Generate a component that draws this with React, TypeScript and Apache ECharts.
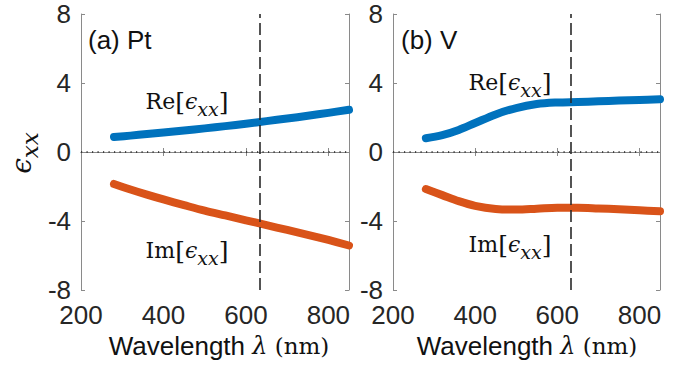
import React, { useEffect, useRef } from "react";
import * as echarts from "echarts";

// Wavelength grid (nm) shared by all curves
const wavelengths = [280, 320, 360, 400, 450, 500, 550, 600, 650, 700, 750, 800, 850];

// Pt permittivity components
const ptRe = [0.87, 0.95, 1.04, 1.13, 1.25, 1.37, 1.5, 1.64, 1.79, 1.94, 2.1, 2.27, 2.45];
const ptIm = [-1.85, -2.17, -2.47, -2.75, -3.08, -3.4, -3.68, -3.96, -4.24, -4.52, -4.8, -5.1, -5.42];

// V permittivity components
const vRe = [0.8, 0.98, 1.28, 1.68, 2.18, 2.55, 2.78, 2.87, 2.9, 2.94, 2.98, 3.02, 3.06];
const vIm = [-2.15, -2.5, -2.85, -3.12, -3.3, -3.34, -3.29, -3.23, -3.23, -3.27, -3.32, -3.38, -3.44];

// Axis settings
const xRange = [200, 850];
const xStep = 200;
const yRange = [-8, 8];
const yStep = 4;
const laserLine = 633;

const BLUE = "#0072BD";
const ORANGE = "#D95319";
const AXIS = "#8a8a8a";
const TEXT = "#262626";
const SANS = "'Liberation Sans', Arial, Helvetica, sans-serif";
const SERIF = "'DejaVu Serif', 'Liberation Serif', serif";
const TICK_FONT = 26;

const pairs = (ys: number[]) => wavelengths.map((w, i) => [w, ys[i]]);

function panelAxes(gridIndex: number) {
  const line = { show: true, lineStyle: { color: AXIS, width: 1 } };
  const tick = { show: true, inside: true, length: 4, lineStyle: { color: AXIS } };
  const xs = [
    {
      type: "value",
      gridIndex,
      position: "bottom",
      min: xRange[0],
      max: xRange[1],
      interval: xStep,
      axisLine: line,
      axisTick: tick,
      axisLabel: {
        show: true,
        showMaxLabel: false,
        margin: 12,
        color: TEXT,
        fontFamily: SANS,
        fontSize: TICK_FONT,
      },
      splitLine: { show: false },
    },
    {
      type: "value",
      gridIndex,
      position: "top",
      min: xRange[0],
      max: xRange[1],
      interval: xStep,
      axisLine: line,
      axisTick: tick,
      axisLabel: { show: false },
      splitLine: { show: false },
    },
  ];
  const ys = [
    {
      type: "value",
      gridIndex,
      position: "left",
      min: yRange[0],
      max: yRange[1],
      interval: yStep,
      axisLine: line,
      axisTick: tick,
      axisLabel: { show: true, margin: 10, color: TEXT, fontFamily: SANS, fontSize: TICK_FONT },
      splitLine: { show: false },
    },
    {
      type: "value",
      gridIndex,
      position: "right",
      min: yRange[0],
      max: yRange[1],
      interval: yStep,
      axisLine: line,
      axisTick: tick,
      axisLabel: { show: false },
      splitLine: { show: false },
    },
  ];
  return { xs, ys };
}

function panelSeries(gridIndex: number, re: number[], im: number[]) {
  const xAxisIndex = gridIndex * 2;
  const yAxisIndex = gridIndex * 2;
  const curve = (data: number[][], color: string) => ({
    type: "line",
    xAxisIndex,
    yAxisIndex,
    data,
    smooth: 0.35,
    showSymbol: false,
    symbol: "none",
    z: 3,
    lineStyle: { color, width: 8, cap: "round", join: "round" },
  });
  return [
    {
      type: "line",
      xAxisIndex,
      yAxisIndex,
      data: [],
      z: 2,
      markLine: {
        silent: true,
        symbol: "none",
        label: { show: false },
        data: [
          { yAxis: 0, lineStyle: { color: "#222", width: 1.5, type: [1.2, 4.3] } },
          { xAxis: laserLine, lineStyle: { color: "#2a2a2a", width: 1.6, type: [12, 5] } },
        ],
      },
    },
    curve(pairs(re), BLUE),
    curve(pairs(im), ORANGE),
  ];
}

// Rich-text styles: tall line boxes for the main glyphs, a short bottom-aligned box for the subscript
const LINE = 34;
const epsRich = {
  n: { fontFamily: SERIF, fontSize: 22, fill: "#111", lineHeight: LINE },
  b: { fontFamily: SERIF, fontSize: 25, fill: "#111", lineHeight: LINE },
  e: { fontFamily: SERIF, fontSize: 22, fontStyle: "italic", fill: "#111", lineHeight: LINE },
  s: { fontFamily: SERIF, fontSize: 19, fontStyle: "italic", fill: "#111", lineHeight: 22, verticalAlign: "bottom" },
};

function annotation(label: string, x: number, y: number) {
  return {
    type: "text",
    x,
    y,
    z: 10,
    style: {
      text: `{n|${label}}{b|[}{e|ϵ}{s|xx}{b|]}`,
      textAlign: "center",
      textVerticalAlign: "middle",
      rich: epsRich,
    },
  };
}

function xTitle(x: number) {
  return {
    type: "text",
    x,
    y: 346,
    z: 10,
    style: {
      text: "{a|Wavelength }{l|λ}{b| (nm)}",
      textAlign: "center",
      textVerticalAlign: "middle",
      rich: {
        a: { fontFamily: SANS, fontSize: 26, fill: "#111" },
        l: { fontFamily: SERIF, fontSize: 24, fontStyle: "italic", fill: "#111" },
        b: { fontFamily: SERIF, fontSize: 23, fill: "#111" },
      },
    },
  };
}

export default function App() {
  const ref = useRef<HTMLDivElement>(null);

  useEffect(() => {
    if (!ref.current) return;
    const chart = echarts.init(ref.current, undefined, { renderer: "svg" });
    const a = panelAxes(0);
    const b = panelAxes(1);
    chart.setOption({
      animation: false,
      backgroundColor: "#ffffff",
      grid: [
        { left: 81, top: 14, width: 268, height: 276, show: false },
        { left: 393, top: 14, width: 267, height: 276, show: false },
      ],
      xAxis: [...a.xs, ...b.xs],
      yAxis: [...a.ys, ...b.ys],
      series: [...panelSeries(0, ptRe, ptIm), ...panelSeries(1, vRe, vIm)],
      graphic: [
        {
          type: "text",
          x: 88,
          y: 40,
          z: 10,
          style: { text: "(a) Pt", font: `26px ${SANS}`, fill: "#111", textVerticalAlign: "middle" },
        },
        {
          type: "text",
          x: 401,
          y: 40,
          z: 10,
          style: { text: "(b) V", font: `26px ${SANS}`, fill: "#111", textVerticalAlign: "middle" },
        },
        annotation("Re", 187, 101),
        annotation("Im", 187, 250),
        annotation("Re", 510, 82),
        annotation("Im", 510, 244),
        xTitle(219),
        xTitle(527),
        {
          type: "text",
          x: 21,
          y: 153,
          rotation: Math.PI / 2,
          z: 10,
          style: {
            text: "{e|ϵ}{s|xx}",
            textAlign: "center",
            textVerticalAlign: "middle",
            rich: {
              e: { fontFamily: SERIF, fontSize: 28, fontStyle: "italic", fill: "#111", lineHeight: 40 },
              s: { fontFamily: SERIF, fontSize: 23, fontStyle: "italic", fill: "#111", lineHeight: 26, verticalAlign: "bottom" },
            },
          },
        },
      ],
    });
    return () => chart.dispose();
  }, []);

  return (
    <div
      ref={ref}
      style={{ position: "fixed", left: 0, top: 0, width: 689, height: 371, background: "#fff" }}
    />
  );
}
